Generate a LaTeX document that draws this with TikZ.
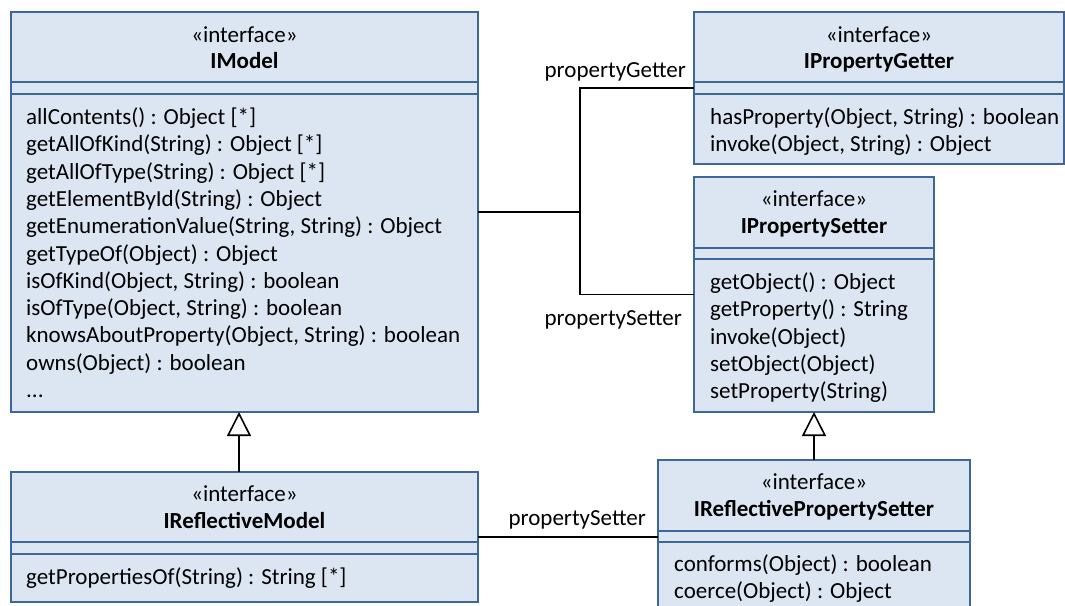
\documentclass[tikz,border=0pt]{standalone}
\usepackage{fontspec}
\setmainfont{Carlito}
\usetikzlibrary{arrows.meta}
\definecolor{boxfill}{HTML}{DCE6F2}
\definecolor{boxline}{HTML}{3D6699}
\tikzset{
  umlbox/.style={draw=boxline, fill=boxfill, line width=2pt, anchor=north west, inner sep=0, outer sep=0},
  divider/.style={draw=boxline, line width=2pt},
  txt/.style={inner sep=0, text height=18pt, text depth=3pt, font=\fontsize{23}{27}\selectfont},
  op/.style={txt, anchor=west},
  hd/.style={txt, anchor=center},
  conn/.style={draw=black, line width=1.6pt},
  inherit/.style={conn, -{Triangle[open, length=24pt, width=24pt, line width=1.6pt, fill=white]}},
}
\newcommand\umlops[3]{%
  \foreach \t [count=\i from 0] in {#3} \node[op] at (#1, -#2-27.3*\i) {\t};%
}
\begin{document}
\begin{tikzpicture}[x=1pt, y=1pt]
\useasboundingbox (0,0) rectangle (1065,-605);
\clip (0,0) rectangle (1065,-605);
% boxes
\node[umlbox, minimum width=467, minimum height=400] (imodel) at (11,-12) {};
\node[umlbox, minimum width=370, minimum height=152] (getter) at (694,-12) {};
\node[umlbox, minimum width=240, minimum height=235] (setter) at (694,-177) {};
\node[umlbox, minimum width=467, minimum height=130] (rmodel) at (11,-472) {};
\node[umlbox, minimum width=312, minimum height=170] (rps) at (658,-460) {};
% dividers
\foreach \b/\ya/\yb in {imodel/82/94, getter/82/94, setter/248/259, rmodel/542/554, rps/531/542} {
  \draw[divider] (\b.west |- 0,-\ya) -- (\b.east |- 0,-\ya);
  \draw[divider] (\b.west |- 0,-\yb) -- (\b.east |- 0,-\yb);
}
% IModel
\node[hd] (imodel-st) at (244.5,-35) {«interface»};
\node[hd] (imodel-nm) at (244.5,-61) {\bfseries IModel};
\umlops{26}{117}{{allContents() : Object [*]},{getAllOfKind(String) : Object [*]},{getAllOfType(String) : Object [*]},{getElementById(String) : Object},{getEnumerationValue(String, String) : Object},{getTypeOf(Object) : Object},{isOfKind(Object, String) : boolean},{isOfType(Object, String) : boolean},{knowsAboutProperty(Object, String) : boolean},{owns(Object) : boolean}}
\node[op] (imodel-more) at (26,-390) {...};
% IPropertyGetter
\node[hd] (getter-st) at (879,-35) {«interface»};
\node[hd] (getter-nm) at (879,-61) {\bfseries IPropertyGetter};
\umlops{710}{117}{{hasProperty(Object, String) : boolean},{invoke(Object, String) : Object}}
% IPropertySetter
\node[hd] (setter-st) at (814,-199) {«interface»};
\node[hd] (setter-nm) at (814,-226) {\bfseries IPropertySetter};
\umlops{710}{282}{{getObject() : Object},{getProperty() : String},{invoke(Object)},{setObject(Object)},{setProperty(String)}}
% IReflectiveModel
\node[hd] (rmodel-st) at (244.5,-494) {«interface»};
\node[hd] (rmodel-nm) at (244.5,-521) {\bfseries IReflectiveModel};
\umlops{26}{577}{{getPropertiesOf(String) : String [*]}}
% IReflectivePropertySetter
\node[hd] (rps-st) at (814,-482) {«interface»};
\node[hd] (rps-nm) at (814,-509) {\bfseries IReflectivePropertySetter};
\umlops{674}{564}{{conforms(Object) : boolean},{coerce(Object) : Object}}
% connectors
\coordinate (j) at (580,-212);
\draw[conn] (imodel.east) -- (j);
\draw[conn] (j) |- (getter.west);
\draw[conn] (j) |- (setter.west);
\node[txt, anchor=east] (lbl-get) at (686,-70) {propertyGetter};
\node[txt, anchor=east] (lbl-set) at (682,-318) {propertySetter};
\draw[conn] (rmodel.east) -- (rps.west |- rmodel.east);
\node[txt, anchor=east] (lbl-rset) at (646,-518) {propertySetter};
\draw[inherit] ([xshift=-5.5pt]rmodel.north) -- ([xshift=-5.5pt]imodel.south);
\draw[inherit] (rps.north -| setter.south) -- (setter.south);
\end{tikzpicture}
\end{document}
